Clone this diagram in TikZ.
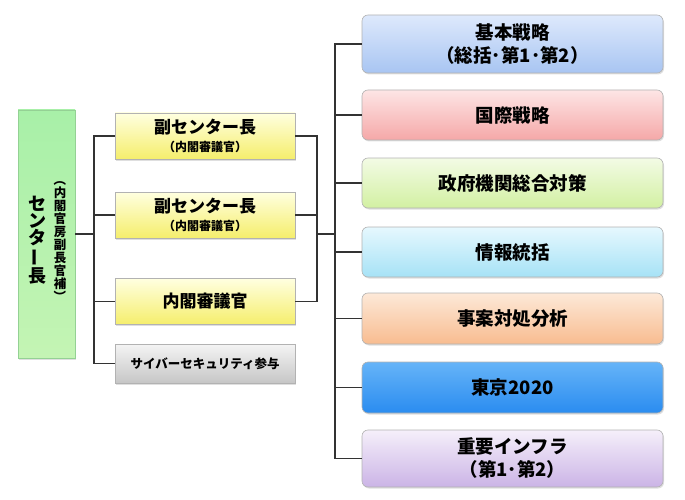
\documentclass[tikz,border=0pt]{standalone}
\usepackage{fontspec}
\setmainfont{Noto Sans CJK JP}
\usetikzlibrary{shadows}

\definecolor{headTop}{HTML}{A8F0A8}
\definecolor{headMid}{HTML}{E4FCDC}
\definecolor{headBot}{HTML}{C4F4B4}
\definecolor{viceTop}{HTML}{FFFFE0}
\definecolor{viceBot}{HTML}{F5EE6C}
\definecolor{advTop}{HTML}{F4F4F4}
\definecolor{advBot}{HTML}{C6C6C6}
\definecolor{basicTop}{HTML}{DEE9FC}
\definecolor{basicBot}{HTML}{A8C5F2}
\definecolor{intlTop}{HTML}{FDE5E5}
\definecolor{intlBot}{HTML}{F5A8A8}
\definecolor{govTop}{HTML}{F3FBE5}
\definecolor{govBot}{HTML}{D2F0A2}
\definecolor{infoTop}{HTML}{E6F8FE}
\definecolor{infoBot}{HTML}{A6E2F6}
\definecolor{caseTop}{HTML}{FDE9D8}
\definecolor{caseBot}{HTML}{F8BC90}
\definecolor{tokyoTop}{HTML}{66B4F8}
\definecolor{tokyoBot}{HTML}{2A8CF0}
\definecolor{infraTop}{HTML}{F5EFFA}
\definecolor{infraBot}{HTML}{CBB4E6}
\definecolor{lineGray}{HTML}{333333}

\newcommand{\vbar}{\rotatebox[origin=c]{90}{ー}}
\newcommand{\vopen}{\rotatebox[origin=c]{-90}{（}}
\newcommand{\vclose}{\rotatebox[origin=c]{-90}{）}}

\begin{document}
\begin{tikzpicture}[x=1pt, y=-1pt]
  \tikzstyle{org_base}  = [draw = black!30, line width=0.6pt, inner sep=0pt, align=center, font=\bfseries,
                           drop shadow={shadow xshift=1pt, shadow yshift=-1.5pt, opacity=0.25}]
  \tikzstyle{org_head}  = [org_base, draw = green!40!gray!60, top color=headTop, middle color=headMid, bottom color=headBot,
                           minimum width=57pt, minimum height=248pt]
  \tikzstyle{org_vice}  = [org_base, top color=viceTop, bottom color=viceBot,
                           minimum width=180pt, minimum height=46pt, font=\bfseries\fontsize{17}{19}\selectfont]
  \tikzstyle{org_adv}   = [org_base, top color=advTop, bottom color=advBot,
                           minimum width=180pt, minimum height=39pt, font=\bfseries\fontsize{12.5}{14}\selectfont]
  \tikzstyle{org_dept}  = [org_base, rounded corners=6pt, minimum width=301pt, minimum height=50pt,
                           font=\bfseries\fontsize{18.5}{23}\selectfont]
  \tikzstyle{org_line}  = [draw = lineGray, line width=1.1pt]

  \useasboundingbox (0,0) rectangle (685,500);

  % center head
  \node[org_head] at (46.5, 234) (head) {};
  \node[font=\bfseries\fontsize{18}{17}\selectfont, align=center, inner sep=0pt]
        at (37, 240) (head_name) {セ\\ン\\タ\\\vbar\\長};
  \node[font=\bfseries\fontsize{12.5}{13}\selectfont, align=center, inner sep=0pt]
        at (60, 238) (head_note) {\vopen\\内\\閣\\官\\房\\副\\長\\官\\補\\\vclose};

  % deputies
  \node[org_vice] at (205, 136.0) (vice1) {副センター長\\[-1pt]{\fontsize{12}{14}\selectfont （内閣審議官）}};
  \node[org_vice] at (205, 215.0) (vice2) {副センター長\\[-1pt]{\fontsize{12}{14}\selectfont （内閣審議官）}};
  \node[org_vice] at (205, 301.5) (counc) {内閣審議官};
  \node[org_adv]  at (205, 363.5) (adv)   {サイバーセキュリティ参与};

  % groups
  \node[org_dept, top color=basicTop, bottom color=basicBot, minimum height=58pt]
        at (512.5, 44.0) (basic) {基本戦略\\（総括･第1･第2）};
  \node[org_dept, top color=intlTop,  bottom color=intlBot]
        at (512.5, 115.0) (intl)  {国際戦略};
  \node[org_dept, top color=govTop,   bottom color=govBot]
        at (512.5, 183.0) (gov)   {政府機関総合対策};
  \node[org_dept, top color=infoTop,  bottom color=infoBot]
        at (512.5, 252.0) (info)  {情報統括};
  \node[org_dept, top color=caseTop,  bottom color=caseBot, minimum height=51pt]
        at (512.5, 318.5) (case)  {事案対処分析};
  \node[org_dept, top color=tokyoTop, bottom color=tokyoBot, minimum height=51pt]
        at (512.5, 387.5) (tokyo) {東京2020};
  \node[org_dept, top color=infraTop, bottom color=infraBot, minimum height=57pt]
        at (512.5, 458.5) (infra) {重要インフラ\\（第1･第2）};

  \coordinate (lbus) at (94, 0);
  \coordinate (mbus) at (317, 0);
  \coordinate (rbus) at (335, 0);

  \draw[org_line]
    (head.east)  -- (lbus |- head.east)
    (vice1.west) -| (lbus |- adv.west) -- (adv.west)
    (vice2.west) -- (lbus |- vice2.west)
    (counc.west) -- (lbus |- counc.west)
  ;

  \draw[org_line]
    (vice1.east) -| (mbus |- counc.east) -- (counc.east)
    (vice2.east) -- (mbus |- vice2.east)
    (mbus |- head.east) -- (rbus |- head.east)
  ;

  \draw[org_line]
    (basic.west) -| (rbus |- infra.west) -- (infra.west)
    (intl.west)  -- (rbus |- intl.west)
    (gov.west)   -- (rbus |- gov.west)
    (info.west)  -- (rbus |- info.west)
    (case.west)  -- (rbus |- case.west)
    (tokyo.west) -- (rbus |- tokyo.west)
  ;

\end{tikzpicture}
\end{document}
